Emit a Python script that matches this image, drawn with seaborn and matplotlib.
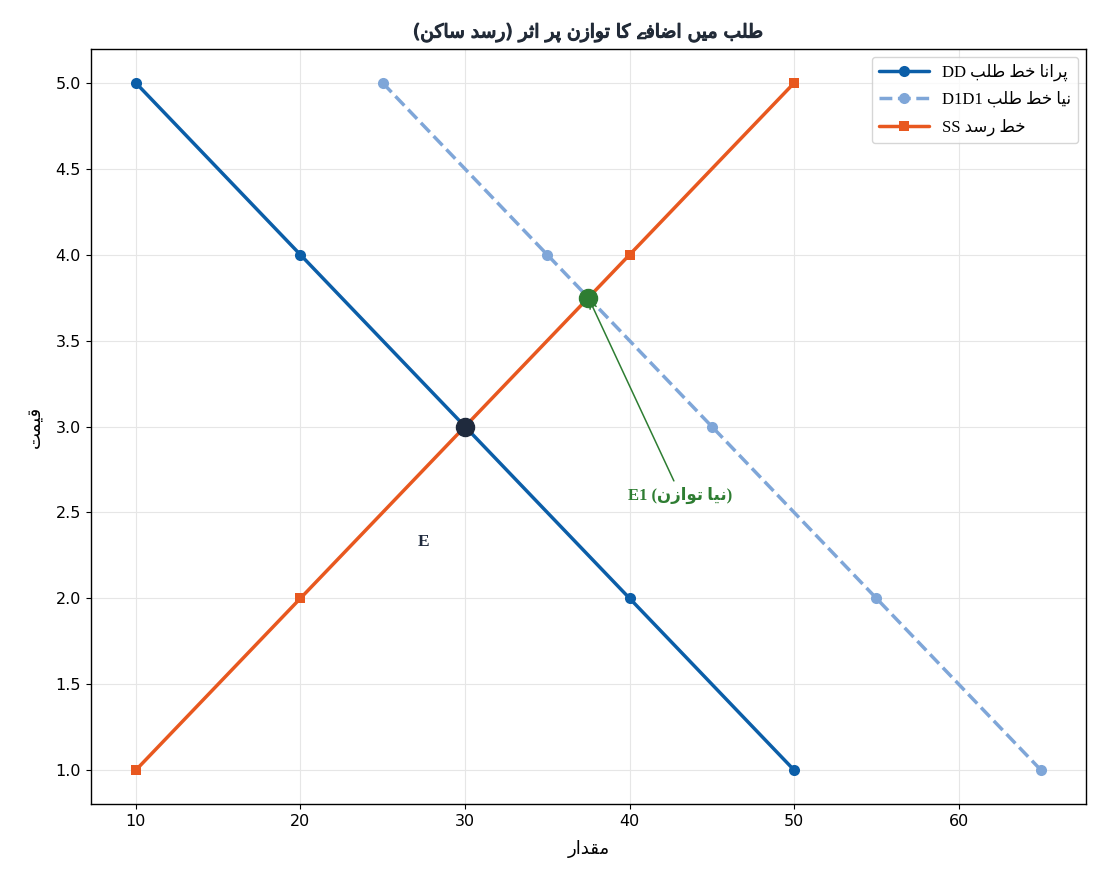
import matplotlib
matplotlib.use("Agg")
import matplotlib.pyplot as plt
import matplotlib.patheffects as pe
from matplotlib import font_manager
from matplotlib.ft2font import FT2Font
import seaborn as sns
import pandas as pd

# ---------------- data ----------------
dd_qty = [10, 20, 30, 40, 50]
dd_price = [5.0, 4.0, 3.0, 2.0, 1.0]
d1_qty = [25, 35, 45, 55, 65]
d1_price = [5.0, 4.0, 3.0, 2.0, 1.0]
ss_qty = [10, 20, 30, 40, 50]
ss_price = [1.0, 2.0, 3.0, 4.0, 5.0]
eq_old = (30, 3.0)
eq_new = (37.5, 3.75)

title_text = "طلب میں اضافے کا توازن پر اثر (رسد ساکن)"
xlabel_text = "مقدار"
ylabel_text = "قیمت"
dd_label = ("پرانا خط طلب", "DD")
d1_label = ("نیا خط طلب", "D1D1")
ss_label = ("خط رسد", "SS")
e1_label = ("E1", "نیا توازن")
e_label = "E"

# ---------------- find a family that has Yeh Barree ----------------
def families_with(cp):
    fams = []
    for f in font_manager.fontManager.ttflist:
        try:
            if cp in FT2Font(f.fname).get_charmap() and f.name not in fams:
                fams.append(f.name)
        except Exception:
            pass
    return fams

fam_fin = families_with(0xFBAF)
fam_base = families_with(0x06D2)
if fam_fin:
    YB_FIN, YB_ISO, extra = '\uFBAF', '\uFBAE', fam_fin[:1]
elif fam_base:
    YB_FIN, YB_ISO, extra = '\u06D2', '\u06D2', fam_base[:1]
else:
    YB_FIN, YB_ISO, extra = '\uFBFD', '\uFBFC', []

# ---------------- minimal Arabic/Urdu shaping ----------------
# (isolated, final, initial, medial)
FORMS = {
    'ا': ('\uFE8D', '\uFE8E', None, None),
    'ب': ('\uFE8F', '\uFE90', '\uFE91', '\uFE92'),
    'ت': ('\uFE95', '\uFE96', '\uFE97', '\uFE98'),
    'ث': ('\uFE99', '\uFE9A', '\uFE9B', '\uFE9C'),
    'خ': ('\uFEA5', '\uFEA6', '\uFEA7', '\uFEA8'),
    'د': ('\uFEA9', '\uFEAA', None, None),
    'ر': ('\uFEAD', '\uFEAE', None, None),
    'ز': ('\uFEAF', '\uFEB0', None, None),
    'س': ('\uFEB1', '\uFEB2', '\uFEB3', '\uFEB4'),
    'ض': ('\uFEBD', '\uFEBE', '\uFEBF', '\uFEC0'),
    'ط': ('\uFEC1', '\uFEC2', '\uFEC3', '\uFEC4'),
    'ف': ('\uFED1', '\uFED2', '\uFED3', '\uFED4'),
    'ق': ('\uFED5', '\uFED6', '\uFED7', '\uFED8'),
    'ل': ('\uFEDD', '\uFEDE', '\uFEDF', '\uFEE0'),
    'م': ('\uFEE1', '\uFEE2', '\uFEE3', '\uFEE4'),
    'ن': ('\uFEE5', '\uFEE6', '\uFEE7', '\uFEE8'),
    'و': ('\uFEED', '\uFEEE', None, None),
    'پ': ('\uFB56', '\uFB57', '\uFB58', '\uFB59'),
    'ک': ('\uFB8E', '\uFB8F', '\uFB90', '\uFB91'),
    'ی': ('\uFBFC', '\uFBFD', '\uFBFE', '\uFBFF'),
    'ے': (YB_ISO, YB_FIN, None, None),
    'ں': ('\uFB9E', '\uFB9F', None, None),
}


def shape_word(w):
    out = []
    for i, c in enumerate(w):
        if c not in FORMS:
            out.append(c)
            continue
        prev = w[i - 1] if i > 0 else None
        nxt = w[i + 1] if i + 1 < len(w) else None
        join_prev = prev in FORMS and FORMS[prev][2] is not None
        join_next = FORMS[c][2] is not None and nxt in FORMS
        iso, fin, ini, med = FORMS[c]
        if join_prev and join_next:
            out.append(med)
        elif join_prev:
            out.append(fin)
        elif join_next:
            out.append(ini)
        else:
            out.append(iso)
    return ''.join(out)


MIRROR = {'(': ')', ')': '('}


def rtl(text):
    shaped = ' '.join(shape_word(w) for w in text.split(' '))
    return ''.join(MIRROR.get(c, c) for c in reversed(shaped))


# ---------------- plot ----------------
sns.set_style("whitegrid", {"grid.color": "#e6e6e6", "axes.edgecolor": "black",
                            "xtick.bottom": True, "ytick.left": True,
                            "xtick.color": "black", "ytick.color": "black",
                            "text.color": "black", "axes.labelcolor": "black"})
plt.rcParams['font.family'] = ['DejaVu Sans'] + extra
plt.rcParams['axes.unicode_minus'] = False
plt.rcParams['xtick.major.size'] = 3.5
plt.rcParams['ytick.major.size'] = 3.5

fig, ax = plt.subplots(figsize=(11.05, 8.84), dpi=100)

c_dd = "#0b5ea8"
c_d1 = "#7fa6d8"
c_ss = "#e8581f"

df_dd = pd.DataFrame({"q": dd_qty, "p": dd_price})
df_d1 = pd.DataFrame({"q": d1_qty, "p": d1_price})
df_ss = pd.DataFrame({"q": ss_qty, "p": ss_price})

sns.lineplot(data=df_dd, x="q", y="p", ax=ax, color=c_dd, lw=2.5, marker="o",
             markersize=8, markeredgewidth=0, label=f"{dd_label[1]} {rtl(dd_label[0])}")
sns.lineplot(data=df_d1, x="q", y="p", ax=ax, color=c_d1, lw=2.5, marker="o",
             markersize=8, markeredgewidth=0, linestyle="--",
             label=f"{d1_label[1]} {rtl(d1_label[0])}")
sns.lineplot(data=df_ss, x="q", y="p", ax=ax, color=c_ss, lw=2.5, marker="s",
             markersize=7.5, markeredgewidth=0, label=f"{ss_label[1]} {rtl(ss_label[0])}")

ax.plot([eq_old[0]], [eq_old[1]], "o", color="#1f2a3d", markersize=13, zorder=5)
ax.plot([eq_new[0]], [eq_new[1]], "o", color="#2e7d32", markersize=13, zorder=5)

serif = ['Liberation Serif', 'DejaVu Sans'] + extra
ax.annotate(f"{e1_label[0]} ({rtl(e1_label[1])})", xy=eq_new, xytext=(43.1, 2.6),
            ha="center", va="center", color="#2e7d32", fontsize=12, fontweight="bold",
            family=serif,
            arrowprops=dict(arrowstyle="->", color="#2e7d32", lw=1.1))
ax.annotate(e_label, xy=eq_old, xytext=(27.5, 2.33), ha="center", va="center",
            color="#1f2a3d", fontsize=12.5, fontweight="bold", family=serif)

title_color = "#222b38"
ax.set_title(rtl(title_text), fontsize=13.5, fontweight="normal", color=title_color, pad=8,
             family=['DejaVu Sans'] + extra,
             path_effects=[pe.withStroke(linewidth=0.9, foreground=title_color)])
ax.set_xlabel(rtl(xlabel_text), fontsize=13, labelpad=8)
ax.set_ylabel(rtl(ylabel_text), fontsize=13, labelpad=8)
ax.tick_params(labelsize=11.5, colors="black")
for s in ax.spines.values():
    s.set_color("black")
    s.set_linewidth(1.0)

leg = ax.legend(loc="upper right", frameon=True, prop={'family': serif, 'size': 12},
                handlelength=3.0, labelspacing=0.65)
leg.get_frame().set_edgecolor("#cccccc")

fig.subplots_adjust(left=0.082, right=0.983, top=0.945, bottom=0.09)
fig.savefig("out.png", dpi=100)
